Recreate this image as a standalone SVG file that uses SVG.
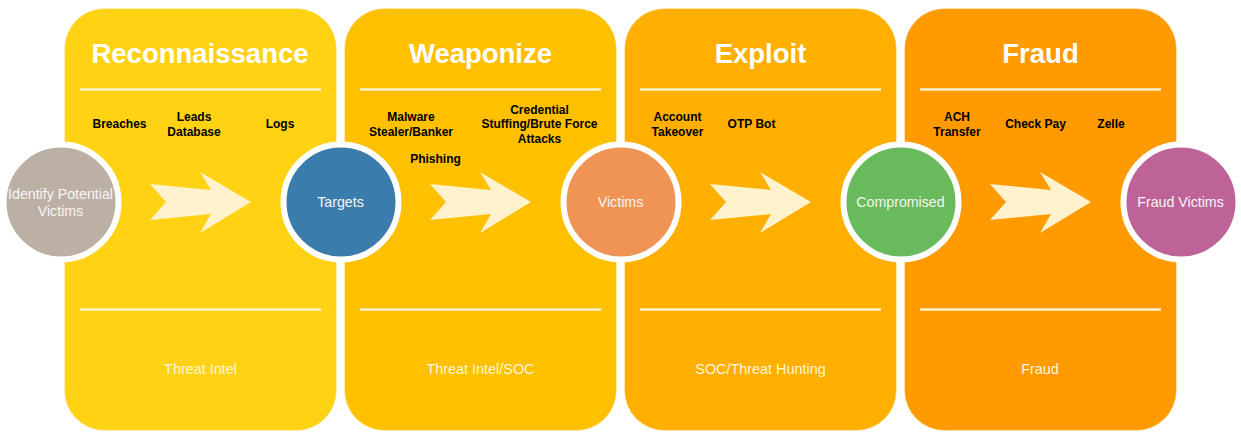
<svg xmlns="http://www.w3.org/2000/svg" width="1241" height="438" viewBox="0 0 1241 438">
<style>
text{font-family:"Liberation Sans",Arial,sans-serif;text-anchor:middle}
.panel{stroke:#FFF2CC;stroke-width:1;stroke-opacity:.6}
.rule{stroke:#FFF2CC;stroke-width:2.5;fill:none}
.title{font-size:27.5px;font-weight:bold;fill:#fff}
.item{font-size:12px;font-weight:bold;fill:#000}
.foot{font-size:14.4px;fill:#FFF6DC}
.circle{stroke:#fff;stroke-width:6}
.ctext{font-size:14.2px;fill:#F6F6F6}
.arrow{fill:#FFF2CC}
</style>
<defs>
<polygon id="chev" class="arrow" points="150,184 211,190 200,172 251,202 200,233 211,214 150,220 166,202"/>
</defs>
<g id="panel-reconnaissance">
<rect class="panel" x="64.5" y="8.5" width="272" height="422" rx="40" fill="#FFD314"/>
<text class="title" x="200" y="63">Reconnaissance</text>
<line class="rule" x1="80" y1="89.5" x2="321" y2="89.5"/>
<text class="item" x="119.500" y="128">Breaches</text>
<text class="item" x="194" y="121">Leads</text>
<text class="item" x="194" y="136">Database</text>
<text class="item" x="280" y="128">Logs</text>
<line class="rule" x1="80" y1="309.500" x2="321" y2="309.500"/>
<text class="foot" x="200.500" y="374">Threat Intel</text>
</g>
<g id="panel-weaponize">
<rect class="panel" x="344.500" y="8.500" width="272" height="422" rx="40" fill="#FFC000"/>
<text class="title" x="480.500" y="63">Weaponize</text>
<line class="rule" x1="360" y1="89.500" x2="601" y2="89.500"/>
<text class="item" x="411" y="121">Malware</text>
<text class="item" x="411" y="136">Stealer/Banker</text>
<text class="item" x="435.500" y="163">Phishing</text>
<text class="item" x="539.500" y="114">Credential</text>
<text class="item" x="539.500" y="128">Stuffing/Brute Force</text>
<text class="item" x="539.500" y="143">Attacks</text>
<line class="rule" x1="360" y1="309.500" x2="601" y2="309.500"/>
<text class="foot" x="480.500" y="374">Threat Intel/SOC</text>
</g>
<g id="panel-exploit">
<rect class="panel" x="624.500" y="8.500" width="272" height="422" rx="40" fill="#FFAF00"/>
<text class="title" x="760.500" y="63">Exploit</text>
<line class="rule" x1="640" y1="89.500" x2="881" y2="89.500"/>
<text class="item" x="677.500" y="121">Account</text>
<text class="item" x="677.500" y="136">Takeover</text>
<text class="item" x="751.500" y="128">OTP Bot</text>
<line class="rule" x1="640" y1="309.500" x2="881" y2="309.500"/>
<text class="foot" x="760.500" y="374">SOC/Threat Hunting</text>
</g>
<g id="panel-fraud">
<rect class="panel" x="904.500" y="8.500" width="272" height="422" rx="40" fill="#FF9A00"/>
<text class="title" x="1040.500" y="63">Fraud</text>
<line class="rule" x1="920" y1="89.500" x2="1161" y2="89.500"/>
<text class="item" x="957" y="121">ACH</text>
<text class="item" x="957" y="136">Transfer</text>
<text class="item" x="1035.500" y="128">Check Pay</text>
<text class="item" x="1111" y="128">Zelle</text>
<line class="rule" x1="920" y1="309.500" x2="1161" y2="309.500"/>
<text class="foot" x="1040" y="374">Fraud</text>
</g>
<g id="connectors">
<use href="#chev"/>
<use href="#chev" x="280"/>
<use href="#chev" x="560"/>
<use href="#chev" x="840"/>
</g>
<g id="node-identify">
<circle class="circle" cx="61" cy="202" r="57.500" fill="#BCB0A4"/>
<text class="ctext" x="60.500" y="199">Identify Potential</text>
<text class="ctext" x="60.500" y="216">Victims</text>
</g>
<g id="node-targets">
<circle class="circle" cx="341" cy="202" r="57.500" fill="#3A7CAB"/>
<text class="ctext" x="340.500" y="207">Targets</text>
</g>
<g id="node-victims">
<circle class="circle" cx="621" cy="202" r="57.500" fill="#F09455"/>
<text class="ctext" x="620.500" y="207">Victims</text>
</g>
<g id="node-compromised">
<circle class="circle" cx="901" cy="202" r="57.500" fill="#69BA5C"/>
<text class="ctext" x="900.500" y="207">Compromised</text>
</g>
<g id="node-fraud-victims">
<circle class="circle" cx="1181" cy="202" r="57.500" fill="#BE6398"/>
<text class="ctext" x="1180.500" y="207">Fraud Victims</text>
</g>
</svg>
